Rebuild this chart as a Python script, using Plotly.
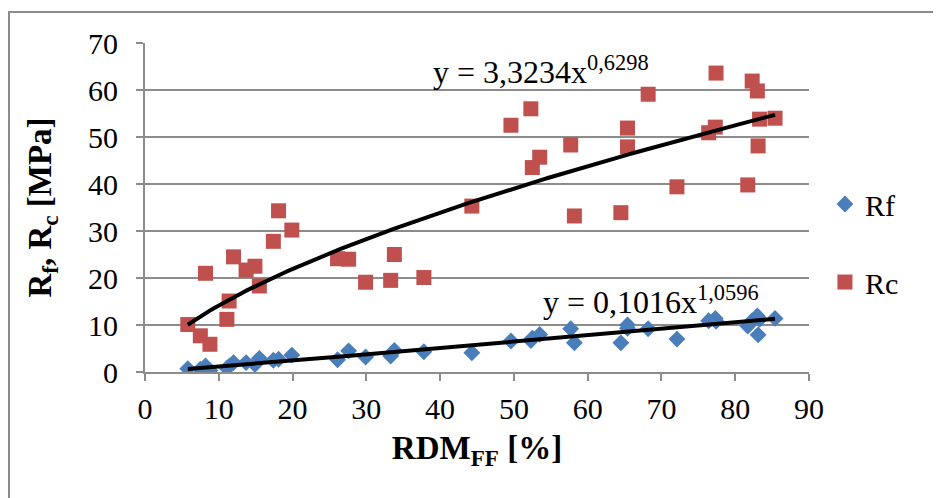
import numpy as np
import plotly.graph_objects as go

rdm = [5.8, 7.5, 8.8, 8.2, 11.1, 11.4, 12.0, 13.7, 14.9, 15.5, 17.4, 18.1, 19.9,
       26.1, 27.6, 29.9, 33.3, 33.8, 37.8, 44.3, 49.6, 52.3, 52.5, 53.5, 57.7, 58.2,
       64.5, 65.4, 65.4, 68.2, 72.1, 76.4, 77.3, 77.4, 81.7, 82.3, 83.0, 83.3, 83.1, 85.4]
rc = [10.1, 7.7, 5.9, 21.0, 11.2, 15.1, 24.5, 21.7, 22.5, 18.3, 27.8, 34.3, 30.2,
      24.1, 24.0, 19.1, 19.5, 25.0, 20.1, 35.3, 52.5, 56.0, 43.5, 45.7, 48.3, 33.2,
      33.9, 51.9, 47.9, 59.1, 39.4, 50.9, 52.1, 63.6, 39.8, 61.9, 59.8, 53.8, 48.1, 54.0]
rf = [0.7, 0.6, 0.3, 1.3, 0.8, 1.2, 2.0, 2.0, 1.6, 2.9, 2.5, 2.7, 3.6,
      2.6, 4.5, 3.2, 3.4, 4.6, 4.3, 4.1, 6.6, 6.7, 7.2, 8.0, 9.2, 6.2,
      6.2, 10.0, 9.3, 9.2, 7.0, 10.9, 11.4, 10.8, 9.8, 10.9, 11.9, 11.2, 7.9, 11.4]

rc_coef, rc_exp = 3.3234, 0.6298
rf_coef, rf_exp = 0.1016, 1.0596

xt = np.linspace(min(rdm), max(rdm), 200)

FONT = "Liberation Serif"
GRAY = "#8C8C8C"
fig = go.Figure()
fig.add_trace(go.Scatter(x=rdm, y=rf, mode="markers", name="Rf", legendgroup="a",
                         marker=dict(symbol="diamond", size=13, color="#4A7EBB")))
fig.add_trace(go.Scatter(x=rdm, y=rc, mode="markers", name="Rc", legendgroup="b",
                         marker=dict(symbol="square", size=15, color="#C0504D")))
fig.add_trace(go.Scatter(x=xt, y=rc_coef * xt ** rc_exp, mode="lines",
                         line=dict(color="black", width=4), showlegend=False, hoverinfo="skip"))
fig.add_trace(go.Scatter(x=xt, y=rf_coef * xt ** rf_exp, mode="lines",
                         line=dict(color="black", width=4), showlegend=False, hoverinfo="skip"))

fig.update_layout(
    width=941, height=498,
    margin=dict(l=137, r=140, t=35, b=134, autoexpand=False),
    paper_bgcolor="white", plot_bgcolor="white",
    font=dict(family=FONT, size=30, color="black"),
    showlegend=True,
    legend=dict(x=1.024, y=0.392, xanchor="left", yanchor="middle",
                font=dict(size=30), tracegroupgap=36, itemwidth=30,
                bgcolor="rgba(0,0,0,0)"),
    xaxis=dict(range=[0, 90], dtick=10, tick0=0, showgrid=False, zeroline=False, automargin=False,
               showline=True, linecolor=GRAY, linewidth=2,
               ticks="outside", ticklen=7, tickcolor=GRAY, tickwidth=2, ticklabelstandoff=2,
               title=dict(text="<b>RDM<sub>FF</sub> [%]</b>", font=dict(size=33), standoff=12)),
    yaxis=dict(range=[0, 70], dtick=10, tick0=0, showgrid=True, gridcolor=GRAY, gridwidth=2,
               zeroline=False, showline=True, linecolor=GRAY, linewidth=2, automargin=False,
               ticks="outside", ticklen=7, tickcolor=GRAY, tickwidth=2, ticklabelstandoff=12,
               title=dict(text="<b>R<sub>f</sub>, R<sub>c</sub> [MPa]</b>", font=dict(size=33), standoff=26)),
    shapes=[dict(type="rect", xref="paper", yref="paper", x0=-0.2048, x1=1.5, y0=-0.5, y1=1.094,
                 line=dict(color=GRAY, width=2), fillcolor="rgba(0,0,0,0)", layer="below")],
)
fig.add_annotation(x=53.7, y=64.3, xref="x", yref="y", text="y = 3,3234x<sup>0,6298</sup>",
                   showarrow=False, xanchor="center", yanchor="middle", font=dict(size=32))
fig.add_annotation(x=68.6, y=15.3, xref="x", yref="y", text="y = 0,1016x<sup>1,0596</sup>",
                   showarrow=False, xanchor="center", yanchor="middle", font=dict(size=32))

fig.write_html("out.html")
